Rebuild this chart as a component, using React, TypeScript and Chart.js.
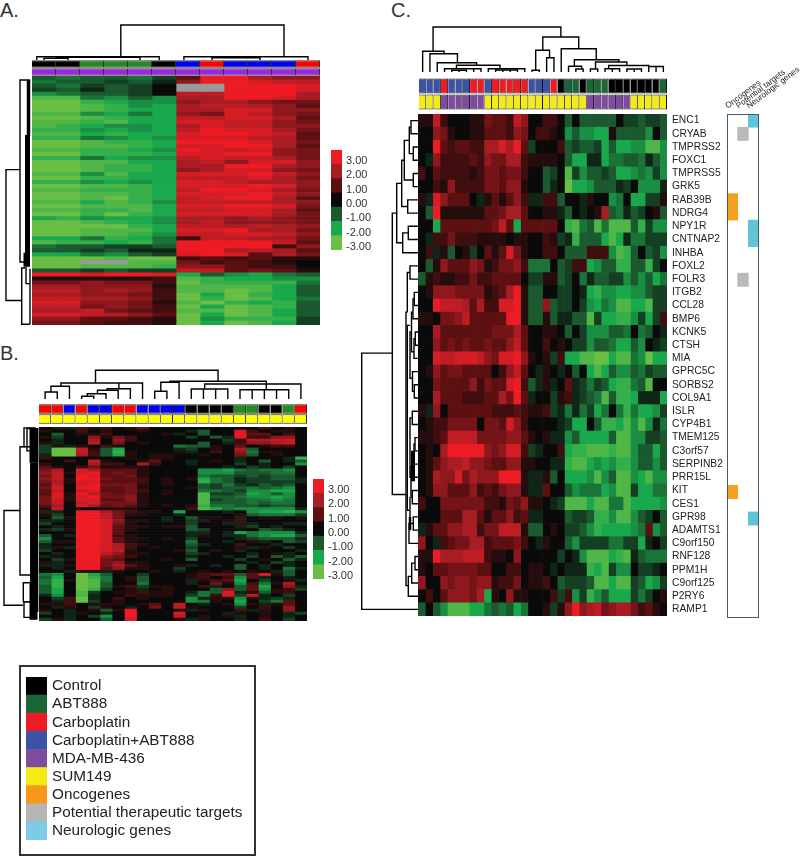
import React, { useEffect, useRef } from "react";
import { Chart, registerables } from "chart.js";
Chart.register(...registerables);

// ---------- data: each character is one cell. 0-9 = red (value n/3), a-i = green (value -n/3), x = missing
const heatRowsA = [
  "cdccdb 399655", "dccbca 599877", "cdbcb0 xx9998", "bcacb0 xx9998", "edccb0 779996", "hhdece 669986",
  "iigfee 566544", "iihgef 677653", "iihgff 668855", "hhefdf 548754", "iihgff 778863", "hhghff 887754",
  "hgfeef 687755", "ggefef 798864", "hhfgff 899873", "ggdefe 888763", "iihggf 999864", "iihhgf 889963",
  "hhggfe 987854", "iigggf 889954", "ggdfee 787764", "iihhff 675885", "iihggf 669965", "iihggf 568854",
  "hhehff 888975", "iiggff 777864", "ggefef 887665", "iihhgf 888985", "hhgggf 799864", "iihhgf 888975",
  "iihigf 789963", "hhfhge 777765", "iihhhf 889984", "hhgghf 778863", "iigigf 888864", "fgeffe 665654",
  "iihgfe 675554", "iiiigf 776765", "iihhhf 889664", "iihhge 778875", "ffdgfd 277664", "hggfgd 999973",
  "dccbbc 999925", "ccbcaa 996763", "ffdecb 898364", "iiihii 232311", "iixxhh 423210", "iihhhg 553220",
  "ccbcbb 773431", "998998 fcefdc", "111112 hgffee", "445442 iggggd", "665551 hhhhfc", "775652 hhihfc",
  "665542 ifigfc", "776652 igihfd", "885541 higfgc", "774542 ifihgc", "667432 hhihfc", "887653 ifihfc",
  "553321 iegggb", "443221 ifihfb",
];
const heatRowsB = [
  "0aa21 20130 00000 00020 10", "10020 10010 00ac0 08201 10", "0c011 20000 1a0c0 09330 20", "1b005 14200 00b0c a8225 50",
  "0a006 05200 00000 b2667 70", "1a007 04010 000c0 a2556 70", "b1a10 21000 0dcc1 03012 20", "bii71 cf000 0ab01 06c00 00",
  "bii72 cg100 01a02 05d11 00", "aii62 cf101 10010 04c01 00", "20000 00101 10000 0a000 ag", "00207 10013 00a01 0a0c0 ac",
  "10006 22062 00a00 0b0a0 0e", "31024 11110 00000 a0ba0 b0", "46086 33310 000ee fdcdd e0", "57189 34310 000ee ecccd d0",
  "47098 33410 000dc cbcbc c0", "57199 43320 101fd cabbc ca", "46188 33320 100gd cabbb ba", "37089 44410 100cb dbacb c0",
  "48099 33410 001cb ccdcd e0", "37078 33420 100dd cbeef f0", "38197 43410 100hb bcfec e0", "48189 44510 000hc cdeef e0",
  "47188 33510 000hb ccdde d0", "47078 44410 000hc ccdcd d0", "36086 34310 101gd dccbc c0", "17000 11100 002hf deeee ea",
  "aa099 64211 0f000 a0eff ge", "1b099 74110 0a000 01cdd db", "0c199 74000 a0c11 02011 01", "aa099 85110 a0ba0 1a000 00",
  "b0099 84100 00b00 a2a00 aa", "0a099 83110 11c00 0ab0a 00", "ab199 83100 00cb0 000cb a0", "00099 83000 00aa0 afdee ea",
  "c0a99 82100 00a10 aadef fc", "e0099 83110 10b00 0abcc ca", "c1199 83100 00d00 a01a0 cb", "a0099 86210 00ca0 0200a 00",
  "a1a99 86201 00b00 01a10 b0", "b0099 87100 01c01 0a000 0a", "0a099 75110 00ba0 00a01 a0", "a1099 54200 00a00 a0b0c ac",
  "0b199 43000 10c00 0b010 ca", "1a099 45110 00000 00a0b a0", "aa199 46310 01a0a 0c0a0 a0", "0a099 35110 0b000 0c0a0 da",
  "00a11 a1001 0a010 1010a c0", "de0if c00b0 00123 3c381 c0", "cf0ig d01c0 00120 2e3a0 a0", "dg1ih d01c0 00a12 3f0b0 1a",
  "dg0ih c00d0 00a04 1e2d1 60", "cg0ih c12b1 1002a 0c3f0 5a", "cf0ig b01a0 1000c 5c3e1 2b", "cf0hb 01121 10adc 8a1c1 20",
  "ae0ha 00211 10bd2 8b7a0 b0", "0b2ia 02010 00ea1 1e1ab a0", "0a2ib 01000 00ed1 0f0bd 30", "11201 11013 070a0 1e1a1 30",
  "0a10b 10a04 07100 0b020 50", "10a01 c1900 01a10 02a10 50", "b0a10 a0900 08000 a1010 ab", "00a0b e0900 07010 1a010 a0",
  "b1a00 c0800 01a10 0a020 b0",
];
const genesC = [
  "ENC1", "CRYAB", "TMPRSS2", "FOXC1", "TMPRSS5", "GRK5", "RAB39B", "NDRG4", "NPY1R", "CNTNAP2", "INHBA", "FOXL2", "FOLR3",
  "ITGB2", "CCL28", "BMP6", "KCNK5", "CTSH", "MIA", "GPRC5C", "SORBS2", "COL9A1", "ISLR", "CYP4B1", "TMEM125", "C3orf57",
  "SERPINB2", "PRR15L", "KIT", "CES1", "GPR98", "ADAMTS1", "C9orf150", "RNF128", "PPM1H", "C9orf125", "P2RY6", "RAMP1",
];
const heatRowsC = [
  "11720 00114 33275 00220 c0ccc cc0bb cbbc", "00541 00113 33254 02210 eceef f1ccc ce0c", "00932 33226 68693 b0002 cbccb fcffe ehhe",
  "0a522 22325 44662 11110 cffaa fddcc dace", "20322 22124 43442 00cb0 hbecc bcffe debe", "00215 22224 43551 00ca0 iffec ccab0 eeea",
  "1a853 330a1 31352 aa22c 00a10 0ed0f fbb1", "0c911 11113 34663 0011a c0a01 6cdac b01c", "00f33 33333 473f3 33330 ghdch dhhhc gbee",
  "0a224 22211 11011 0021b agccc fhfad dbbb", "02a1c 01b03 13841 00220 ccc22 2ehgc 0cbe", "0c153 33541 24452 ddd0c b22fe ccggc cgb0",
  "c1211 22422 33330 bb11c b0dac cbbec ecfd", "01555 44441 23691 cc00b b0afg eeffe ecbb", "00977 76362 28891 cc5cb b0bef dehhf fhbb",
  "11044 57333 33991 cc1ca acchb ffgge bfb2", "00633 33333 44463 00110 c0bee eccd0 dc0a", "00534 34334 33573 00201 0bbec cdffc e0ab",
  "00877 88875 48895 101b2 ffhhi ifhhd eiff", "01534 43333 02573 0a10a 0c0fh fceec dbcc", "00433 33524 33892 ca1a0 3abdb cfggd ch00",
  "00633 32223 36493 a00b1 2abcd hcggf aaaf", "1a503 33333 22232 112ba dadbf d0dgd ffeb", "01224 44404 43852 0000a bff0c ggfhe head",
  "11237 77744 44553 101aa ecfff fchhe ebbc", "01069 99995 45882 ba002 fgghh hghhe ccfc", "01356 67554 33551 100aa ghhfe fegge ccec",
  "01655 84655 59991 aa1c0 fffeh echhe fhee", "01553 33523 24551 aa300 ceddd fehhb ffdd", "20044 44442 21435 110ab hhhfh hddhf fffe",
  "00033 36631 33523 aa000 cbbcg gehhe cb0c", "a1335 56624 47771 cc010 bbceg ffffe d3ec", "50a23 44662 33342 0a100 cebbb bddbb fa0b",
  "11966 67772 11050 0000b 0aehh hfgha cddd", "10334 44433 00220 110a0 aaagf hbee0 bba0", "50054 55455 12240 1120c bbbch hfhhb cfeb",
  "02035 5546f 10511 0002b 2ebge cfffb db01", "c0ceh hhffd cdcfd 001b1 59567 45664 2310",
];

// sample annotations: K control, G ABT888, R carboplatin, B carboplatin+ABT888; P MDA-MB-436, Y SUM149
const treatmentA = "KKGGGKBRBBBR".split("");
const cellLineA = "PPPPPPPPPPPP".split("");
const treatmentB = "RRBRBBRRBBBBKKKKGGKKGR".split("");
const cellLineB = "YYYYYYYYYYYYYYYYYYYYYY".split("");
const treatmentC = "BBBRBBBRRBRRRRRBBBRKGGKGGGKKKKKKKG".split("");
const cellLineC = "YYYPPPPPPYYYYYYYYYYYYYYPPPPPPYYYYY".split("");

// dendrogram merges: [pos A, height A, pos B, height B, merge height, optional line width]
const colTreeA = [[0.5,0,1.5,0,1.8],[1,1.8,4.5,0,2.6],[0.2,0,5.3,0,3.2],[6.33,0,11.5,0,3.2],[7.5,0,9.5,0,2.2],[3.7,3.2,10.5,3.2,35]];
const rowTreeA = [[23.3,12,55.9,10.3,26],[1,2,46.3,8,12],[1,3.5,15,3.5,3.5,3.5],[14.7,4.5,47.5,4.5,4.5,5],[44,7,47.5,7,7,3],[47.8,7,61.8,2,10.3],[47.5,6,51.7,2,6],[48,2,61.8,2,2]];
const colTreeB = [[0.5,0,1.5,0,7],[0.98,7,2.5,0,12.7],[1.8,12.7,8.5,0,16],[3.5,0,4.5,0,2.7],[3.96,2.7,5.5,0,5.3],[4.8,5.3,6.5,0,8.7],[5.6,8.7,7.5,0,10.3],[6.56,10.3,6.56,16,16],[9.5,0,10.5,0,7.7],[10,7.7,11.5,0,16.7],[10.74,16.7,18.66,15,17.7],[12.5,0,15.5,0,10],[13.5,0,13.5,0,10],[14.5,0,14.5,0,10],[16.5,0,20.5,0,9.3],[17.5,0,17.5,0,9.3],[18.5,0,18.5,0,9.3],[19.5,0,19.5,0,9.3],[13.6,10,21.5,0,15],[18.66,9.3,18.66,15,15],[4.64,16,14.7,17.7,28.7]];
const rowTreeB = [[28,19,59.7,16,35],[6.6,14,49.6,8,19],[12,4.8,62,4.8,4.8,8.3],[0.3,6,12,6,6,7],[0.3,2.5,12,2.5,2.5,4],[0.3,3,6.6,8,15],[0.5,6,8,6,12],[52.2,5,58.6,5,15.7],[52.5,5.5,64.6,5.5,5.5,8],[58.6,5,63.8,3,15]];
const colTreeC = [[0.5,0,3.44,18.3,20.7],[1.5,0,5.27,9.3,18.3],[2.5,0,7.89,6.7,9.3],[5.14,3.3,11.1,3.3,6.7],[3.5,0,8.5,0,3.3],[4.5,0,6.5,0,1.7],[5.5,0,5.5,1.7,1.7],[7.5,0,7.5,3.3,3.3],[9.5,0,14.5,0,3.3],[10.5,0,13.5,0,2],[11.5,0,11.5,2,2],[12.5,0,12.5,2,2],[1.93,20.7,19.45,35,45],[16.97,21.7,21.9,23.3,35],[16,1.7,17.9,14.3,21.7],[15.5,0,16.5,0,1.7],[17.5,0,18.5,0,14.3],[19.5,0,24.3,12.3,23.3],[21.3,5.7,27.4,10,12.3],[20.5,0,22.3,3,5.7],[21.5,0,22.5,0,3],[24.2,3,28.5,6.5,10],[23.5,0,24.5,0,3],[26,3.3,31.5,5.5,6.5],[25.5,0,27.5,0,3.3],[26.5,0,26.5,3.3,3.3],[28.5,0,30.5,0,3],[29.5,0,29.5,3,3],[31.5,0,33.5,0,5.5],[32.5,0,32.5,5.5,5.5]];
const rowTreeC = [[18.1,25.7,37.5,0,56.3],[7.5,21.3,28.8,12,25.7],[0.5,0,1.5,0,7],[2.5,0,3.5,0,4.7],[1,7,3,4.7,8.7],[4.5,0,5.5,0,4.7],[2,8.7,5,4.7,13.7],[6.5,0,7.5,0,10.3],[3.5,13.7,7,10.3,16.3],[8.5,0,9.5,0,9.7],[9,9.7,10.5,0,15.3],[5.25,16.3,9.75,15.3,21.3],[11.5,0,12.5,0,8],[13.5,0,14.5,0,3.7],[14,3.7,15.5,0,5],[16.5,0,17.5,0,2.7],[17,2.7,18.5,0,4],[20.5,0,21.5,0,3.7],[19.5,0,21,3.7,5.5],[15,5,18,4,6.5],[16.5,6.5,20,5.5,8],[22.5,0,23.5,0,5.7],[24.5,0,25.5,0,3],[25,3,26.5,0,4],[26,4,27.5,0,5.5],[25.5,5,27.8,5,5,4],[28.5,0,29.5,0,5.7],[26.7,5,29,5.7,7],[23,5.7,27.5,7,8],[30.5,0,31.5,0,4.7],[29,8,31,4.7,8],[30.5,8,31.5,8,8,2.5],[33.5,0,34.5,0,3],[34,3,35.5,0,6.3],[35,6.3,36.5,0,9.7],[31,8,32.5,0,9],[16,8,30,9,10.7],[12,8,15,10.7,10.7],[15,10.7,35.7,9.7,12]];

const scaleValues = [3, 2, 1, 0, -1, -2, -3];
const scaleLabels = ["3.00", "2.00", "1.00", "0.00", "-1.00", "-2.00", "-3.00"];
const oncogeneGenes = ["RAB39B", "NDRG4", "KIT"];
const targetGenes = ["CRYAB", "FOLR3"];
const neurologicGenes = ["ENC1", "NPY1R", "CNTNAP2", "GPR98"];
const geneClassLabels = ["Oncogenes", "Potential targets", "Neurologic genes"];
const legendLabels = ["Control", "ABT888", "Carboplatin", "Carboplatin+ABT888", "MDA-MB-436", "SUM149", "Oncogenes", "Potential therapeutic targets", "Neurologic genes"];
const legendColors = ["#000000", "#1b6637", "#ed1c24", "#3a53a4", "#7d4c9f", "#f4eb15", "#f7981d", "#b5b5b5", "#7ecbe8"];

const annotBright: Record<string, string> = { K: "#000000", G: "#228b22", R: "#ff0000", B: "#0000f0", P: "#9b27e0", Y: "#ffff00" };
const annotSoft: Record<string, string> = { K: "#000000", G: "#1b6637", R: "#ed1c24", B: "#3a53a4", P: "#7d4c9f", Y: "#f4eb15" };

// ---------- helpers
const anchors: [number, number[]][] = [
  [-3, [106, 189, 69]], [-2, [26, 168, 76]], [-1, [26, 90, 46]], [0, [10, 10, 10]],
  [1, [92, 16, 18]], [2, [168, 28, 36]], [3, [237, 28, 36]],
];
function colorOf(v: number) {
  for (let i = 0; i < anchors.length - 1; i++) {
    const [a, ca] = anchors[i];
    const [b, cb] = anchors[i + 1];
    if (v <= b) {
      const t = Math.max(0, (v - a) / (b - a));
      return `rgb(${ca.map((c, k) => Math.round(c + (cb[k] - c) * t)).join(",")})`;
    }
  }
  return "rgb(237,28,36)";
}
function cellColor(ch: string) {
  if (ch === "x") return "#9a9a9a";
  const n = parseInt(ch, 10);
  if (!isNaN(n)) return colorOf(n / 3);
  return colorOf(-(ch.charCodeAt(0) - 96) / 3);
}
const base = (extra: any = {}) => ({
  responsive: false,
  animation: false,
  events: [],
  layout: { padding: 0 },
  plugins: { legend: { display: false }, tooltip: { enabled: false } },
  ...extra,
});
const hiddenY = { stacked: true, display: false };
// the axis must not pull the chart area in for half a label at each end
const noPad = (s: any) => { s.paddingTop = 0; s.paddingBottom = 0; s.paddingLeft = 0; s.paddingRight = 0; };

function heatConfig(rowsRaw: string[], labels?: string[], yAxis: any = hiddenY) {
  const rows = rowsRaw.map((r) => r.replace(/ /g, ""));
  const n = rows[0].length;
  return {
    type: "bar",
    data: {
      labels: labels || rows.map((_, i) => String(i + 1)),
      datasets: Array.from({ length: n }, (_, c) => ({
        label: "col" + c,
        data: rows.map(() => 1),
        backgroundColor: rows.map((r) => cellColor(r[c] || "0")),
        borderWidth: 0,
        barPercentage: 1,
        categoryPercentage: 1,
      })),
    },
    options: base({
      indexAxis: "y",
      scales: { x: { stacked: true, display: false, min: 0, max: n }, y: yAxis },
    }),
  };
}
function annotConfig(rowsOf: string[][], colors: Record<string, string>, border: string) {
  const n = rowsOf[0].length;
  return {
    type: "bar",
    data: {
      labels: ["treatment", "cell line"],
      datasets: Array.from({ length: n }, (_, c) => ({
        label: "col" + c,
        data: rowsOf.map(() => 1),
        backgroundColor: rowsOf.map((r) => colors[r[c]]),
        borderColor: border,
        borderWidth: 1,
        barPercentage: 0.94,
        categoryPercentage: 1,
      })),
    },
    options: base({
      indexAxis: "y",
      scales: { x: { stacked: true, display: false, min: 0, max: n }, y: hiddenY },
    }),
  };
}
function treeDatasets(merges: number[][], horizontal: boolean) {
  return merges.map((m) => {
    const [pa, ha, pb, hb, h, w] = m;
    const pts = [[pa, ha], [pa, h], [pb, h], [pb, hb]];
    return {
      data: pts.map(([p, v]) => (horizontal ? { x: p, y: v } : { x: v, y: p })),
      showLine: true,
      pointRadius: 0,
      borderColor: "#000",
      borderWidth: w || 1.4,
      tension: 0,
      fill: false,
      clip: false,
    };
  });
}
function colTreeConfig(merges: number[][], n: number, hmax: number) {
  return {
    type: "scatter",
    data: { datasets: treeDatasets(merges, true) },
    options: base({
      scales: {
        x: { type: "linear", display: false, min: 0, max: n },
        y: { type: "linear", display: false, min: 0, max: hmax },
      },
    }),
  };
}
function rowTreeConfig(merges: number[][], n: number, hmax: number) {
  return {
    type: "scatter",
    data: { datasets: treeDatasets(merges, false) },
    options: base({
      scales: {
        x: { type: "linear", display: false, reverse: true, min: 0, max: hmax },
        y: { type: "linear", display: false, reverse: true, min: 0, max: n },
      },
    }),
  };
}
function scaleConfig(canvasW: number, barW: number) {
  return {
    type: "bar",
    data: {
      labels: scaleLabels,
      datasets: [{ data: scaleValues.map(() => 1), backgroundColor: scaleValues.map(colorOf), borderWidth: 0, barPercentage: 1, categoryPercentage: 1 }],
    },
    options: base({
      indexAxis: "y",
      scales: {
        x: { display: false, min: 0, max: 1 },
        y: {
          position: "right",
          grid: { display: false, drawTicks: false },
          border: { display: false },
          ticks: { padding: 4, labelOffset: 4, color: "#333", font: { family: "Liberation Sans", size: 11 }, autoSkip: false },
          afterFit: (s: any) => { noPad(s); s.width = canvasW - barW; },
        },
      },
    }),
  };
}
function classConfig() {
  const lists = [oncogeneGenes, targetGenes, neurologicGenes];
  const colors = ["#f7a01d", "#b9b9b9", "#62c5d6"];
  const frame = {
    id: "frame",
    afterDraw(chart: any) {
      const { ctx, chartArea: a } = chart;
      ctx.save();
      ctx.strokeStyle = "#3f5f6f";
      ctx.lineWidth = 1;
      ctx.strokeRect(a.left + 0.5, a.top + 0.5, a.right - a.left - 1, a.bottom - a.top - 1);
      ctx.restore();
    },
  };
  return {
    type: "bar",
    plugins: [frame],
    data: {
      labels: genesC,
      datasets: lists.map((l, i) => ({
        label: geneClassLabels[i],
        data: genesC.map(() => 1),
        backgroundColor: genesC.map((g) => (l.includes(g) ? colors[i] : "rgba(0,0,0,0)")),
        borderWidth: 0,
        barPercentage: 1,
        categoryPercentage: 1,
      })),
    },
    options: base({
      indexAxis: "y",
      layout: { padding: { left: 27, right: 41, top: 0, bottom: 0 } },
      scales: {
        x: { type: "linear", display: false, stacked: true, min: 0, max: 3 },
        x2: {
          type: "category",
          labels: geneClassLabels,
          position: "top",
          offset: true,
          grid: { display: false, drawTicks: false },
          border: { display: false },
          ticks: { minRotation: 37, maxRotation: 37, padding: 3, autoSkip: false, color: "#222", font: { family: "Liberation Sans", size: 8.2 } },
          afterFit: (s: any) => { noPad(s); s.height = 54; },
        },
        y: { stacked: true, display: false },
      },
    }),
  };
}
function legendConfig(w: number) {
  return {
    type: "bar",
    data: {
      labels: legendLabels,
      datasets: [{ data: legendLabels.map(() => 1), backgroundColor: legendColors, borderWidth: 0, barPercentage: 1, categoryPercentage: 1 }],
    },
    options: base({
      indexAxis: "y",
      scales: {
        x: { display: false, min: 0, max: 1 },
        y: {
          position: "right",
          grid: { display: false, drawTicks: false },
          border: { display: false },
          ticks: { padding: 5, autoSkip: false, color: "#222", font: { family: "Liberation Sans", size: 15.3 } },
          afterFit: (s: any) => { noPad(s); s.width = w - 21; },
        },
      },
    }),
  };
}

function Box({ x, y, w, h, config }: { x: number; y: number; w: number; h: number; config: any }) {
  const ref = useRef<HTMLCanvasElement>(null);
  useEffect(() => {
    const chart = new Chart(ref.current as any, config);
    return () => chart.destroy();
  }, []);
  return <canvas ref={ref} width={w} height={h} style={{ position: "absolute", left: x, top: y, width: w, height: h, display: "block" }} />;
}
function Tag({ x, y, t }: { x: number; y: number; t: string }) {
  return <div style={{ position: "absolute", left: x, top: y, fontSize: 20, lineHeight: "20px", color: "#333" }}>{t}</div>;
}

export default function App() {
  return (
    <div style={{ position: "absolute", left: 0, top: 0, width: 800, height: 857, background: "#fff", overflow: "hidden", fontFamily: '"Liberation Sans", Arial, sans-serif' }}>
      <Tag x={0} y={0} t="A." />
      <Tag x={0} y={343} t="B." />
      <Tag x={391} y={0} t="C." />

      <Box x={32} y={20} w={288} h={40} config={colTreeConfig(colTreeA, 12, 40)} />
      <Box x={2} y={76} w={30} h={249} config={rowTreeConfig(rowTreeA, 62, 30)} />
      <Box x={32} y={60} w={288} h={16} config={annotConfig([treatmentA, cellLineA], annotBright, "#333")} />
      <Box x={32} y={76} w={288} h={249} config={heatConfig(heatRowsA)} />
      <Box x={331} y={150} w={50} h={100} config={scaleConfig(50, 11)} />

      <Box x={39} y={365} w={268} h={34} config={colTreeConfig(colTreeB, 22, 34)} />
      <Box x={1} y={427} w={38} h={194} config={rowTreeConfig(rowTreeB, 65, 38)} />
      <Box x={39} y={404} w={268} h={20} config={annotConfig([treatmentB, cellLineB], annotBright, "#222")} />
      <Box x={39} y={427} w={268} h={194} config={heatConfig(heatRowsB)} />
      <Box x={313} y={479} w={50} h={100} config={scaleConfig(50, 11)} />

      <Box x={419} y={22} w={248} h={50} config={colTreeConfig(colTreeC, 34, 50)} />
      <Box x={358} y={114} w={60} h={502} config={rowTreeConfig(rowTreeC, 38, 60)} />
      <Box x={419} y={78} w={248} h={32} config={annotConfig([treatmentC, cellLineC], annotSoft, "#111")} />
      <Box x={418} y={114} w={315} h={502} config={heatConfig(heatRowsC, genesC, {
        stacked: true,
        position: "right",
        grid: { display: false, drawTicks: false },
        border: { display: false },
        ticks: { padding: 5, autoSkip: false, color: "#222", font: { family: "Liberation Sans", size: 10.3 } },
        afterFit: (s: any) => { noPad(s); s.width = 315 - 249; },
      })} />
      <Box x={700} y={60} w={100} h={558} config={classConfig()} />

      <div style={{ position: "absolute", left: 19, top: 665, width: 237, height: 191, border: "2px solid #333", boxSizing: "border-box" }} />
      <Box x={26} y={677} w={228} h={163} config={legendConfig(228)} />
    </div>
  );
}
